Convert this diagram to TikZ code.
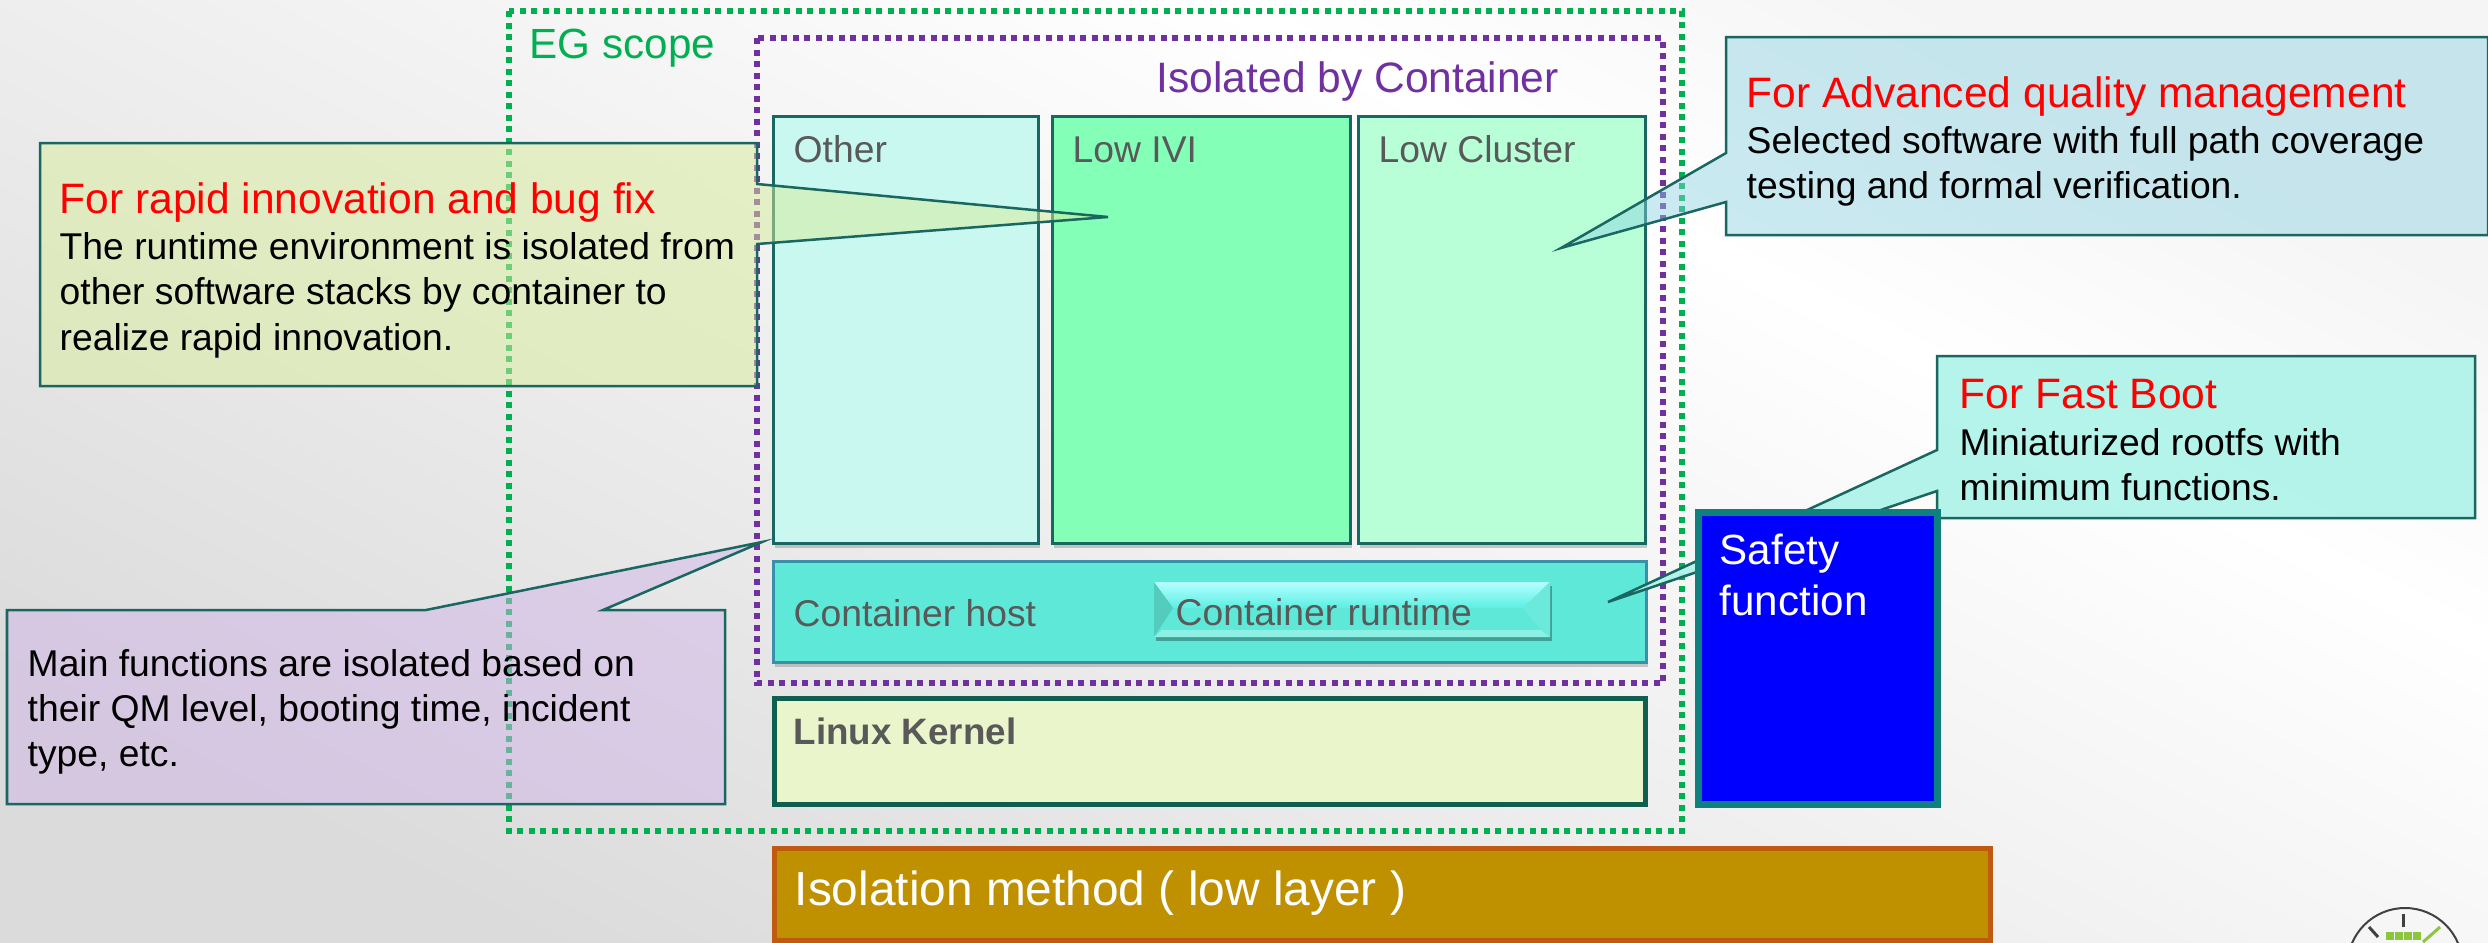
\documentclass[tikz,border=0pt]{standalone}
\usepackage{fontspec}
\setmainfont{Liberation Sans}
\usetikzlibrary{shadows}

\definecolor{calloutline}{HTML}{1A6660}
\definecolor{egGreen}{HTML}{00B050}
\definecolor{isoPurple}{HTML}{7030A0}
\definecolor{labelGrey}{HTML}{595959}
\definecolor{otherFill}{HTML}{C8F8F0}
\definecolor{iviFill}{HTML}{84FFB8}
\definecolor{clusterFill}{HTML}{B8FFD8}
\definecolor{hostFill}{HTML}{5EE8D8}
\definecolor{hostLine}{HTML}{3A90A8}
\definecolor{kernelFill}{HTML}{EBF5CC}
\definecolor{kernelLine}{HTML}{0F5F50}
\definecolor{methodFill}{HTML}{BF9000}
\definecolor{methodLine}{HTML}{C05A11}
\definecolor{safetyLine}{HTML}{0E8080}
\definecolor{gaugeGreen}{HTML}{8CC63F}
\pgfdeclarehorizontalshading{backdrop}{100bp}{color(0bp)=(black!14); color(25bp)=(black!14); color(64bp)=(white); color(75bp)=(black!4); color(100bp)=(black!4)}

\tikzset{
  dotted box/.style={line width=0.06cm, dash pattern=on 0.06cm off 0.055cm},
  plain box/.style={draw=calloutline, line width=0.03cm, anchor=north west, inner sep=0pt, drop shadow={shadow xshift=0.015cm, shadow yshift=-0.04cm, opacity=0.4}},
  heavy box/.style={line width=0.05cm, anchor=north west, inner sep=0pt},
  callout/.style={draw=calloutline, line width=0.025cm, fill opacity=0.5, line join=miter},
  label text/.style={anchor=base west, inner sep=0pt, text=labelGrey, font=\fontsize{10.6}{13}\selectfont},
  note head/.style={anchor=base west, inner sep=0pt, text=red, font=\fontsize{12.1}{14}\selectfont},
  note text/.style={anchor=base west, inner sep=0pt, font=\fontsize{10.6}{12.8}\selectfont},
  white text/.style={anchor=base west, inner sep=0pt, text=white, font=\fontsize{12}{14}\selectfont},
}

\begin{document}
\begin{tikzpicture}[x=0.01cm, y=-0.01cm]
\useasboundingbox (0,0) rectangle (2488,942);

% A. Backdrop with a diagonal grey fade
\shade[shading=backdrop, shading angle=63] (0,0) rectangle (2488,942);

% B. Dotted scope frames
\draw[dotted box, egGreen] (509,11) rectangle (1682,831);
\draw[dotted box, isoPurple] (757,38) rectangle (1663,683);
\node[anchor=base west, inner sep=0pt, text=egGreen, font=\fontsize{12}{14}\selectfont] (egscope) at (529,58) {EG scope};
\node[anchor=base west, inner sep=0pt, text=isoPurple, font=\fontsize{12.1}{14}\selectfont] (isolated) at (1156,92) {Isolated by Container};

% C. Container columns and host
\node[plain box, fill=otherFill, minimum width=2.65cm, minimum height=4.27cm] (other) at (772,115) {};
\node[plain box, fill=iviFill, minimum width=2.98cm, minimum height=4.27cm] (lowivi) at (1051,115) {};
\node[plain box, fill=clusterFill, minimum width=2.87cm, minimum height=4.27cm] (lowcluster) at (1357,115) {};
\node[plain box, draw=hostLine, fill=hostFill, minimum width=8.72cm, minimum height=1.01cm] (host) at (772,560) {};
\node[label text] (otherlabel) at (793,162) {Other};
\node[label text] (lowivilabel) at (1072,162) {Low IVI};
\node[label text] (lowclusterlabel) at (1378,162) {Low Cluster};
\node[label text] (hostlabel) at (793,626) {Container host};

% D. Bevelled runtime button
\fill[black, opacity=0.3] (1156,586) rectangle (1552,641);
\fill[hostFill] (1154,582) rectangle (1550,637);
\shade[top color=cyan!30!white, bottom color=hostFill!80!cyan!90!white] (1154,582) -- (1550,582) -- (1523,608) -- (1173,608) -- cycle;
\fill[hostFill!88!black] (1154,582) -- (1173,608) -- (1154,637) -- cycle;
\fill[hostFill!70!white] (1154,637) -- (1162,630) -- (1541,630) -- (1550,637) -- cycle;
\fill[hostFill!92!white] (1550,582) -- (1523,608) -- (1541,630) -- (1550,637) -- cycle;
\node[label text] (runtime) at (1175,625) {Container runtime};

% E. Kernel and isolation bars
\node[heavy box, draw=kernelLine, fill=kernelFill, minimum width=8.70cm, minimum height=1.06cm] (kernel) at (772,696) {};
\node[label text, font=\fontsize{10.45}{13}\bfseries\selectfont] (kernellabel) at (793,744) {Linux Kernel};
\node[heavy box, draw=methodLine, fill=methodFill, minimum width=12.15cm, minimum height=0.92cm] (isomethod) at (772,846) {};
\node[anchor=base west, inner sep=0pt, text=white, font=\fontsize{13.6}{16}\selectfont] (isolabel) at (794,905) {Isolation method ( low layer )};

% F. Callouts, each one box with its pointer
\draw[callout, fill={rgb,255:red,216;green,236;blue,154}] (40,143) -- (757,143) -- (757,184) -- (1108,217) -- (757,244) -- (757,386) -- (40,386) -- cycle;
\draw[callout, fill={rgb,255:red,210;green,180;blue,232}] (7,610) -- (426,610) -- (762,542) -- (603,610) -- (725,610) -- (725,804) -- (7,804) -- cycle;
\draw[callout, fill opacity=0.45, fill={rgb,255:red,139;green,209;blue,225}] (1726,37) -- (2488,37) -- (2488,235) -- (1726,235) -- (1726,202) -- (1561,248) -- (1726,153) -- cycle;
\draw[callout, fill opacity=0.9, fill={rgb,255:red,172;green,243;blue,233}] (1937,356) -- (2475,356) -- (2475,518) -- (1937,518) -- (1937,491) -- (1608,602) -- (1937,450) -- cycle;

% G. Safety block sits above the last pointer
\node[anchor=north west, inner sep=0pt, draw=safetyLine, line width=0.07cm, fill=blue, minimum width=2.39cm, minimum height=2.92cm] (safety) at (1695,509) {};
\node[white text] (safetylabel) at (1719,564) {Safety};
\node[white text] (functionlabel) at (1719,615) {function};

% H. Callout wording
\node[note head] (rapidhead) at (59,213) {For rapid innovation and bug fix};
\node[note text] (rapidone) at (59,259) {The runtime environment is isolated from};
\node[note text] (rapidtwo) at (59,304) {other software stacks by container to};
\node[note text] (rapidthree) at (59,350) {realize rapid innovation.};
\node[note text] (mainone) at (27,676) {Main functions are isolated based on};
\node[note text] (maintwo) at (27,721) {their QM level, booting time, incident};
\node[note text] (mainthree) at (27,766) {type, etc.};
\node[note head] (qualityhead) at (1746,107) {For Advanced quality management};
\node[note text] (qualityone) at (1746,153) {Selected software with full path coverage};
\node[note text] (qualitytwo) at (1746,198) {testing and formal verification.};
\node[note head] (boothead) at (1959,408) {For Fast Boot};
\node[note text] (bootone) at (1959,455) {Miniaturized rootfs with};
\node[note text] (boottwo) at (1959,500) {minimum functions.};

% I. Gauge badge, cut off by the page edge
\begin{scope}
\clip (2300,880) rectangle (2488,942);
\draw[line width=0.02cm, black!75] (2405,965.5) circle (57.5);
\draw[line width=0.03cm, black!75] (2403.5,914) -- (2403.5,927);
\draw[line width=0.03cm, black!75] (2369,927) -- (2378,937);
\draw[line width=0.03cm, gaugeGreen] (2440,927) -- (2423,942);
\foreach \i in {0,1,2,3} \fill[gaugeGreen] (2386+\i*9,932) rectangle +(8,8);
\end{scope}
\end{tikzpicture}
\end{document}
